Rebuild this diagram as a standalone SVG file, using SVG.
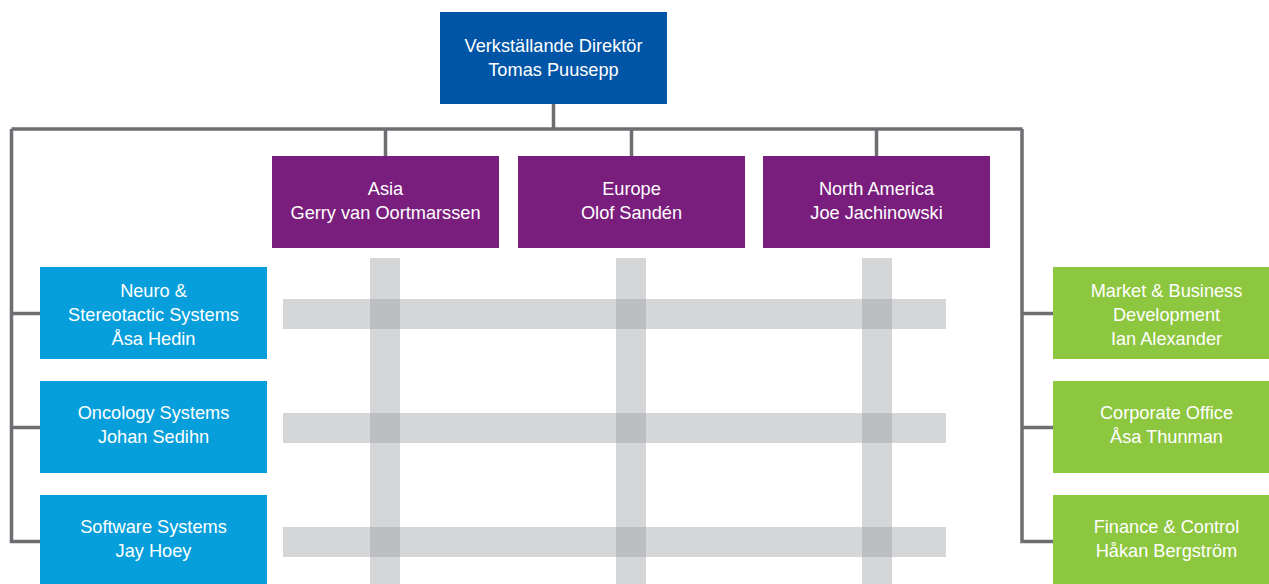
<svg xmlns="http://www.w3.org/2000/svg" width="1269" height="584" viewBox="0 0 1269 584">
<style>
.t{font-family:"Liberation Sans",Arial,sans-serif;font-size:18.2px;fill:#ffffff;text-anchor:middle}
.ceo{fill:#0055a6}
.reg{fill:#7a1e7e}
.div{fill:#069fdb}
.fun{fill:#8dc63f}
.bar{fill:#d5d6d8}
.ov{fill:#bdbec1}
.ln{stroke:#6d6e71;stroke-width:3.5;fill:none}
</style>
<g id="matrix">
<rect class="bar" x="370" y="258" width="30" height="326"/>
<rect class="bar" x="616" y="258" width="30" height="326"/>
<rect class="bar" x="862" y="258" width="30" height="326"/>
<rect class="bar" x="283" y="299" width="663" height="30"/>
<rect class="bar" x="283" y="413" width="663" height="30"/>
<rect class="bar" x="283" y="527" width="663" height="30"/>
<rect class="ov" x="370" y="299" width="30" height="30"/>
<rect class="ov" x="616" y="299" width="30" height="30"/>
<rect class="ov" x="862" y="299" width="30" height="30"/>
<rect class="ov" x="370" y="413" width="30" height="30"/>
<rect class="ov" x="616" y="413" width="30" height="30"/>
<rect class="ov" x="862" y="413" width="30" height="30"/>
<rect class="ov" x="370" y="527" width="30" height="30"/>
<rect class="ov" x="616" y="527" width="30" height="30"/>
<rect class="ov" x="862" y="527" width="30" height="30"/>
</g>
<g id="connectors">
<path class="ln" d="M553.5 104V129"/>
<path class="ln" d="M11.5 129H1022.5"/>
<path class="ln" d="M11.5 129V541.5H40"/>
<path class="ln" d="M11.5 313.5H40"/>
<path class="ln" d="M11.5 427.5H40"/>
<path class="ln" d="M1022 129V541.5H1053"/>
<path class="ln" d="M1022 313.5H1053"/>
<path class="ln" d="M1022 427.5H1053"/>
<path class="ln" d="M385.5 129V156"/>
<path class="ln" d="M631.5 129V156"/>
<path class="ln" d="M876.5 129V156"/>
</g>
<g id="ceo">
<rect class="ceo" x="440" y="12" width="227" height="92"/>
<text class="t" x="553.5" y="52">Verkställande Direktör</text>
<text class="t" x="553.5" y="76">Tomas Puusepp</text>
</g>
<g id="asia">
<rect class="reg" x="272" y="156" width="227" height="92"/>
<text class="t" x="385.5" y="195">Asia</text>
<text class="t" x="385.5" y="219">Gerry van Oortmarssen</text>
</g>
<g id="europe">
<rect class="reg" x="518" y="156" width="227" height="92"/>
<text class="t" x="631.5" y="195">Europe</text>
<text class="t" x="631.5" y="219">Olof Sandén</text>
</g>
<g id="northamerica">
<rect class="reg" x="763" y="156" width="227" height="92"/>
<text class="t" x="876.5" y="195">North America</text>
<text class="t" x="876.5" y="219">Joe Jachinowski</text>
</g>
<g id="neuro">
<rect class="div" x="40" y="267" width="227" height="92"/>
<text class="t" x="153.5" y="297">Neuro &amp;</text>
<text class="t" x="153.5" y="321">Stereotactic Systems</text>
<text class="t" x="153.5" y="345">Åsa Hedin</text>
</g>
<g id="oncology">
<rect class="div" x="40" y="381" width="227" height="92"/>
<text class="t" x="153.5" y="419">Oncology Systems</text>
<text class="t" x="153.5" y="443">Johan Sedihn</text>
</g>
<g id="software">
<rect class="div" x="40" y="495" width="227" height="92"/>
<text class="t" x="153.5" y="533">Software Systems</text>
<text class="t" x="153.5" y="557">Jay Hoey</text>
</g>
<g id="market">
<rect class="fun" x="1053" y="267" width="227" height="92"/>
<text class="t" x="1166.5" y="297">Market &amp; Business</text>
<text class="t" x="1166.5" y="321">Development</text>
<text class="t" x="1166.5" y="345">Ian Alexander</text>
</g>
<g id="corporate">
<rect class="fun" x="1053" y="381" width="227" height="92"/>
<text class="t" x="1166.5" y="419">Corporate Office</text>
<text class="t" x="1166.5" y="443">Åsa Thunman</text>
</g>
<g id="finance">
<rect class="fun" x="1053" y="495" width="227" height="92"/>
<text class="t" x="1166.5" y="533">Finance &amp; Control</text>
<text class="t" x="1166.5" y="557">Håkan Bergström</text>
</g>
</svg>
